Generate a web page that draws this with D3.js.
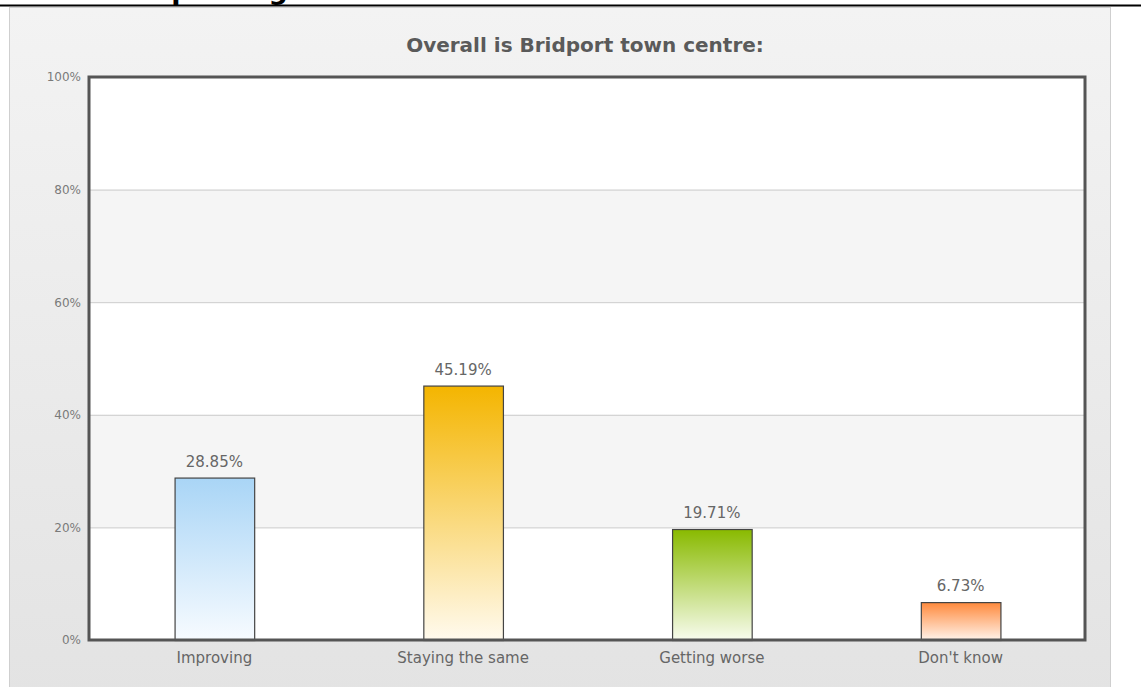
<!DOCTYPE html>
<html>
<head>
<meta charset="utf-8">
<script src="https://cdn.jsdelivr.net/npm/d3@7"></script>
<style>
  body { margin: 0; background: #fff; }
  text { font-family: "DejaVu Sans", Verdana, sans-serif; }
</style>
</head>
<body>
<div class="canvas"></div>
<script>
// data
const categories = ['Improving', 'Staying the same', 'Getting worse', "Don't know"];
const values = [28.85, 45.19, 19.71, 6.73];
const yTicks = [0, 20, 40, 60, 80, 100];
const barColors = [
    ['#a9d5f6', '#f7fbff'],
    ['#f4b500', '#fffaee'],
    ['#89ba00', '#f8fcef'],
    ['#ff8a3d', '#fff4ec']
];

const dims = { width: 1141, height: 687 };
const plot = { left: 90, top: 77, right: 1085, bottom: 640 };

const svg = d3.select('.canvas')
    .append('svg')
    .attr('width', dims.width)
    .attr('height', dims.height);

const defs = svg.append('defs');

const panelGrad = defs.append('linearGradient')
    .attr('id', 'panel')
    .attr('x1', 0).attr('y1', 0).attr('x2', 0).attr('y2', 1);
panelGrad.append('stop').attr('offset', '0%').attr('stop-color', '#f3f3f3');
panelGrad.append('stop').attr('offset', '100%').attr('stop-color', '#e3e3e3');

barColors.forEach((c, i) => {
    const g = defs.append('linearGradient')
        .attr('id', `bar${i}`)
        .attr('x1', 0).attr('y1', 0).attr('x2', 0).attr('y2', 1);
    g.append('stop').attr('offset', '0%').attr('stop-color', c[0]);
    g.append('stop').attr('offset', '100%').attr('stop-color', c[1]);
});

// page heading, mostly cut off above the window
svg.append('text')
    .attr('x', 133)
    .attr('y', -1)
    .attr('font-family', 'Liberation Sans, Arial, sans-serif')
    .attr('font-weight', 'bold')
    .attr('font-size', 27)
    .attr('fill', '#000')
    .text('Improving');

svg.append('line')
    .attr('x1', 0).attr('x2', dims.width)
    .attr('y1', 5.5).attr('y2', 5.5)
    .attr('stroke', '#000')
    .attr('stroke-width', 2);

// chart panel
svg.append('rect')
    .attr('x', 9.5).attr('y', 7.5)
    .attr('width', 1101).attr('height', 690)
    .attr('fill', 'url(#panel)')
    .attr('stroke', '#cfcfcf');

svg.append('text')
    .attr('x', 585)
    .attr('y', 52)
    .attr('text-anchor', 'middle')
    .attr('font-weight', 'bold')
    .attr('font-size', 20)
    .attr('fill', '#5a5a5a')
    .text('Overall is Bridport town centre:');

const x = d3.scaleBand()
    .domain(categories)
    .range([plot.left, plot.right])
    .paddingInner(0.68)
    .paddingOuter(0.34);

const y = d3.scaleLinear()
    .domain([0, 100])
    .range([plot.bottom, plot.top]);

const graph = svg.append('g');

// alternating bands
graph.selectAll('rect.band')
    .data(d3.pairs(yTicks))
    .enter()
    .append('rect')
    .attr('class', 'band')
    .attr('x', plot.left)
    .attr('width', plot.right - plot.left)
    .attr('y', d => y(d[1]))
    .attr('height', d => y(d[0]) - y(d[1]))
    .attr('fill', (d, i) => i % 2 === 1 ? '#f5f5f5' : '#ffffff');

// y axis
const yAxis = d3.axisLeft(y)
    .tickValues(yTicks)
    .tickFormat(d => d + '%')
    .tickSize(-(plot.right - plot.left))
    .tickPadding(9);

const yAxisGroup = graph.append('g')
    .attr('transform', `translate(${plot.left}, 0)`)
    .call(yAxis);

yAxisGroup.select('.domain').remove();
yAxisGroup.selectAll('line').attr('stroke', '#cccccc');
yAxisGroup.selectAll('text')
    .attr('font-family', '"DejaVu Sans", Verdana, sans-serif')
    .attr('font-size', 12)
    .attr('fill', '#7a7a7a');

// bars
graph.selectAll('rect.bar')
    .data(values)
    .enter()
    .append('rect')
    .attr('class', 'bar')
    .attr('x', (d, i) => x(categories[i]) + 0.5)
    .attr('width', x.bandwidth())
    .attr('y', d => y(d) + 0.5)
    .attr('height', d => y(0) - y(d))
    .attr('fill', (d, i) => `url(#bar${i})`)
    .attr('stroke', '#444')
    .attr('stroke-width', 1.2);

graph.selectAll('text.value')
    .data(values)
    .enter()
    .append('text')
    .attr('class', 'value')
    .attr('x', (d, i) => x(categories[i]) + x.bandwidth() / 2)
    .attr('y', d => y(d) - 11)
    .attr('text-anchor', 'middle')
    .attr('font-size', 15)
    .attr('fill', '#666')
    .text(d => d.toFixed(2) + '%');

// frame
graph.append('rect')
    .attr('x', plot.left - 1)
    .attr('y', plot.top)
    .attr('width', plot.right - plot.left + 1)
    .attr('height', plot.bottom - plot.top)
    .attr('fill', 'none')
    .attr('stroke', '#555')
    .attr('stroke-width', 3);

// x axis labels
const xAxis = d3.axisBottom(x).tickSize(0).tickPadding(12);
const xAxisGroup = graph.append('g')
    .attr('transform', `translate(0, ${plot.bottom})`)
    .call(xAxis);
xAxisGroup.select('.domain').remove();
xAxisGroup.selectAll('text')
    .attr('font-family', '"DejaVu Sans", Verdana, sans-serif')
    .attr('font-size', 15)
    .attr('fill', '#666');
</script>
</body>
</html>
